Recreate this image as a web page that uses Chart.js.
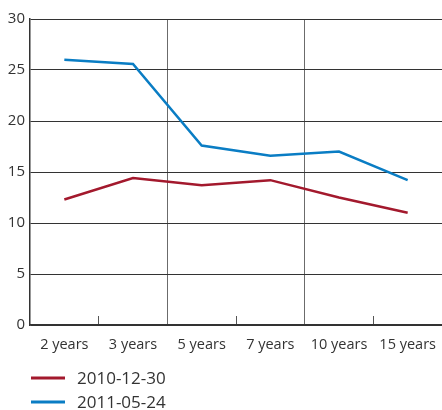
<!DOCTYPE html>
<html>
<head>
<meta charset="utf-8">
<script src="https://cdn.jsdelivr.net/npm/chart.js@4/dist/chart.umd.min.js"></script>
<style>
  html, body { margin: 0; padding: 0; background: #fff; overflow: hidden; }
  #wrap { width: 442px; height: 410px; position: relative; }
</style>
</head>
<body>
<div id="wrap"><canvas id="linechart"></canvas></div>
<script>
'use strict';

const categories = ['2 years', '3 years', '5 years', '7 years', '10 years', '15 years'];
const seriesNames = ['2010-12-30', '2011-05-24'];
const dec2010 = [12.3, 14.4, 13.7, 14.2, 12.5, 11.0];
const may2011 = [26.0, 25.6, 17.6, 16.6, 17.0, 14.2];
const yTicks = [0, 5, 10, 15, 20, 25, 30];

const RED = '#a3192d';
const BLUE = '#0a7dc4';
const FONT = "'Open Sans', sans-serif";

// legend drawn under the axis, one row per series
const stackedLegend = {
  id: 'stackedLegend',
  afterDraw(chart) {
    const { ctx, chartArea } = chart;
    ctx.save();
    ctx.font = '17px ' + FONT;
    ctx.textBaseline = 'middle';
    chart.data.datasets.forEach((ds, i) => {
      const y = chartArea.bottom + 53 + i * 24;
      const x = chartArea.left + 1;
      ctx.strokeStyle = ds.borderColor;
      ctx.lineWidth = 3;
      ctx.beginPath();
      ctx.moveTo(x, y);
      ctx.lineTo(x + 34, y);
      ctx.stroke();
      ctx.fillStyle = '#333';
      ctx.fillText(ds.label, x + 46, y + 1);
    });
    ctx.restore();
  }
};

new Chart(document.getElementById('linechart').getContext('2d'), {
  type: 'line',
  data: {
    labels: categories,
    datasets: [
      { label: seriesNames[0], data: dec2010, borderColor: RED, backgroundColor: RED },
      { label: seriesNames[1], data: may2011, borderColor: BLUE, backgroundColor: BLUE }
    ]
  },
  options: {
    responsive: true,
    maintainAspectRatio: false,
    animation: false,
    layout: { padding: { top: 19, left: 0, right: 0, bottom: 0 } },
    elements: {
      line: { borderWidth: 2.5, tension: 0 },
      point: { radius: 0, hoverRadius: 0 }
    },
    plugins: {
      legend: { display: false },
      tooltip: { enabled: false }
    },
    scales: {
      x: {
        offset: true,
        grid: {
          offset: true,
          lineWidth: 1,
          tickLength: -9,
          color: (c) => (c.index === 2 || c.index === 4) ? '#6b6b6b' : 'rgba(0,0,0,0)',
          tickColor: (c) => (c.index === 1 || c.index === 3 || c.index === 5) ? '#555' : 'rgba(0,0,0,0)'
        },
        border: { display: true, color: '#333', width: 1.5 },
        ticks: {
          color: '#333',
          font: { family: FONT, size: 14.5 },
          padding: 20,
          maxRotation: 0,
          autoSkip: false
        },
        afterFit: (s) => {
          s.height = 85;
          // labels fit inside their bands, no side padding needed
          s.paddingLeft = 0;
          s.paddingRight = 0;
        }
      },
      y: {
        min: 0,
        max: 30,
        afterBuildTicks: (s) => { s.ticks = yTicks.map(v => ({ value: v })); },
        grid: { color: '#333', lineWidth: 1, drawTicks: false },
        border: { display: true, color: '#333', width: 1.5 },
        ticks: {
          color: '#333',
          font: { family: FONT, size: 15 },
          padding: 5
        },
        afterFit: (s) => { s.width = 30; }
      }
    }
  },
  plugins: [stackedLegend]
});
</script>
</body>
</html>
